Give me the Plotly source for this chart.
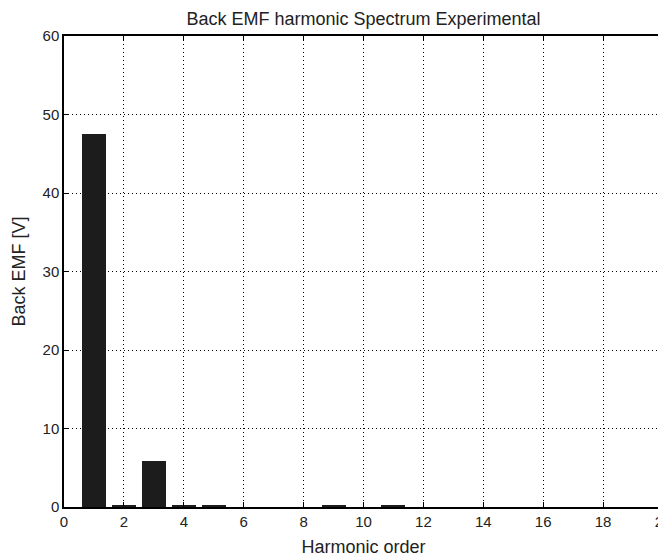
import plotly.graph_objects as go

harmonic_order = [1, 2, 3, 4, 5, 6, 7, 8, 9, 10, 11, 12, 13, 14, 15, 16, 17, 18, 19]
back_emf = [47.5, 0.3, 5.8, 0.3, 0.25, 0.0, 0.0, 0.0, 0.25, 0.0, 0.3, 0.0, 0.0, 0.0, 0.0, 0.0, 0.0, 0.0, 0.0]
x_ticks = [0, 2, 4, 6, 8, 10, 12, 14, 16, 18, 20]
y_ticks = [0, 10, 20, 30, 40, 50, 60]

FONT = "Liberation Sans, Arial, sans-serif"
TXT = "#222222"

fig = go.Figure(
    go.Bar(
        x=harmonic_order,
        y=back_emf,
        width=0.8,
        marker=dict(color="#1c1c1c", line=dict(color="#000000", width=0)),
    )
)

axis_common = dict(
    showline=True,
    linecolor="#000000",
    linewidth=1.5,
    mirror="ticks",
    ticks="inside",
    ticklen=5,
    tickcolor="#000000",
    showgrid=True,
    gridcolor="#000000",
    griddash="1px,3px",
    gridwidth=1,
    zeroline=False,
    automargin=False,
    ticklabeloverflow="allow",
    tickfont=dict(family=FONT, size=15, color=TXT),
)

# page body has an 8px margin, so the figure is sized/offset to fit the window
fig.update_layout(
    width=658,
    height=552,
    margin=dict(l=56, r=3, t=28, b=53),
    paper_bgcolor="#ffffff",
    plot_bgcolor="#ffffff",
    showlegend=False,
    bargap=0,
    title=dict(
        text="Back EMF harmonic Spectrum Experimental",
        xref="paper",
        x=0.5,
        xanchor="center",
        yref="container",
        y=0.981,
        yanchor="middle",
        font=dict(family=FONT, size=18, color=TXT),
    ),
    xaxis=dict(
        range=[0, 20],
        tickvals=x_ticks,
        title=dict(text="Harmonic order", standoff=12,
                   font=dict(family=FONT, size=18, color=TXT)),
        **axis_common,
    ),
    yaxis=dict(
        range=[0, 60],
        tickvals=y_ticks,
        title=dict(text="Back EMF [V]", standoff=12,
                   font=dict(family=FONT, size=18, color=TXT)),
        **axis_common,
    ),
)

fig.write_html("out.html")
